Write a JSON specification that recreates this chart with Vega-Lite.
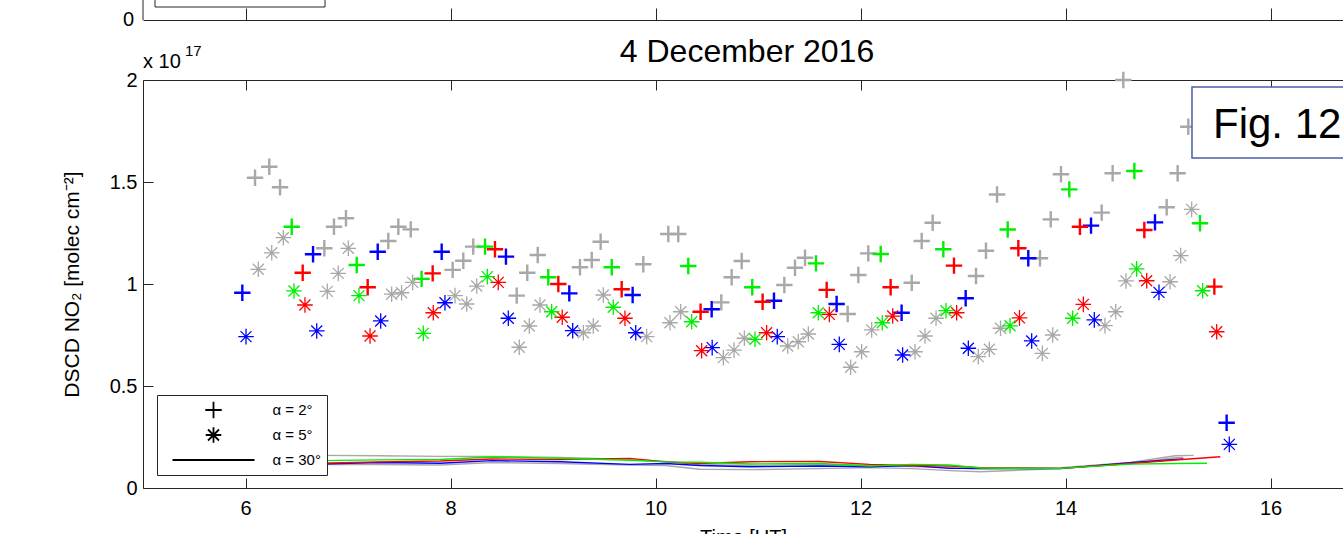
{
  "$schema": "https://vega.github.io/schema/vega-lite/v6.json",
  "width": 1200,
  "height": 408,
  "autosize": {"type": "none"},
  "padding": {"left": 143, "top": 80, "right": 0, "bottom": 46},
  "background": "white",
  "config": {
    "view": {"stroke": null},
    "font": "Liberation Sans",
    "axis": {"grid": false, "domainColor": "#262626", "tickColor": "#262626", "labelColor": "black", "titleColor": "black", "labelFont": "Liberation Sans", "titleFont": "Liberation Sans", "titleFontWeight": "normal", "labelFlush": false}
  },
  "title": {"text": "4 December 2016", "fontSize": 32, "fontWeight": "normal", "font": "Liberation Sans", "color": "black", "anchor": "middle", "frame": "group", "offset": 0, "dy": 71, "dx": 4},
  "datasets": {
    "pts": [
      {"t":6.093,"v":1.521,"s":"k","a":"α = 2°"},{"t":6.232,"v":1.575,"s":"k","a":"α = 2°"},{"t":6.337,"v":1.474,"s":"k","a":"α = 2°"},
      {"t":6.769,"v":1.175,"s":"k","a":"α = 2°"},{"t":6.863,"v":1.281,"s":"k","a":"α = 2°"},{"t":6.980,"v":1.322,"s":"k","a":"α = 2°"},
      {"t":7.393,"v":1.211,"s":"k","a":"α = 2°"},{"t":7.491,"v":1.281,"s":"k","a":"α = 2°"},{"t":7.612,"v":1.268,"s":"k","a":"α = 2°"},
      {"t":8.021,"v":1.069,"s":"k","a":"α = 2°"},{"t":8.125,"v":1.114,"s":"k","a":"α = 2°"},{"t":8.222,"v":1.183,"s":"k","a":"α = 2°"},
      {"t":8.646,"v":0.943,"s":"k","a":"α = 2°"},{"t":8.749,"v":1.055,"s":"k","a":"α = 2°"},{"t":8.851,"v":1.142,"s":"k","a":"α = 2°"},
      {"t":9.263,"v":1.082,"s":"k","a":"α = 2°"},{"t":9.378,"v":1.118,"s":"k","a":"α = 2°"},{"t":9.465,"v":1.207,"s":"k","a":"α = 2°"},
      {"t":9.881,"v":1.097,"s":"k","a":"α = 2°"},{"t":10.125,"v":1.245,"s":"k","a":"α = 2°"},{"t":10.222,"v":1.245,"s":"k","a":"α = 2°"},
      {"t":10.642,"v":0.910,"s":"k","a":"α = 2°"},{"t":10.743,"v":1.033,"s":"k","a":"α = 2°"},{"t":10.841,"v":1.113,"s":"k","a":"α = 2°"},
      {"t":11.257,"v":0.995,"s":"k","a":"α = 2°"},{"t":11.361,"v":1.080,"s":"k","a":"α = 2°"},{"t":11.459,"v":1.129,"s":"k","a":"α = 2°"},
      {"t":11.875,"v":0.853,"s":"k","a":"α = 2°"},{"t":11.979,"v":1.044,"s":"k","a":"α = 2°"},{"t":12.076,"v":1.150,"s":"k","a":"α = 2°"},
      {"t":12.500,"v":1.006,"s":"k","a":"α = 2°"},{"t":12.597,"v":1.211,"s":"k","a":"α = 2°"},{"t":12.704,"v":1.300,"s":"k","a":"α = 2°"},
      {"t":13.127,"v":1.039,"s":"k","a":"α = 2°"},{"t":13.224,"v":1.163,"s":"k","a":"α = 2°"},{"t":13.332,"v":1.439,"s":"k","a":"α = 2°"},
      {"t":13.751,"v":1.126,"s":"k","a":"α = 2°"},{"t":13.856,"v":1.317,"s":"k","a":"α = 2°"},{"t":13.956,"v":1.538,"s":"k","a":"α = 2°"},
      {"t":14.353,"v":1.350,"s":"k","a":"α = 2°"},{"t":14.460,"v":1.543,"s":"k","a":"α = 2°"},{"t":14.564,"v":2.0,"s":"k","a":"α = 2°"},
      {"t":14.987,"v":1.376,"s":"k","a":"α = 2°"},{"t":15.094,"v":1.543,"s":"k","a":"α = 2°"},{"t":15.198,"v":1.771,"s":"k","a":"α = 2°"},

      {"t":6.125,"v":1.072,"s":"k","a":"α = 5°"},{"t":6.256,"v":1.153,"s":"k","a":"α = 5°"},{"t":6.369,"v":1.227,"s":"k","a":"α = 5°"},
      {"t":6.798,"v":0.964,"s":"k","a":"α = 5°"},{"t":6.905,"v":1.052,"s":"k","a":"α = 5°"},{"t":7.003,"v":1.175,"s":"k","a":"α = 5°"},
      {"t":7.426,"v":0.950,"s":"k","a":"α = 5°"},{"t":7.523,"v":0.957,"s":"k","a":"α = 5°"},{"t":7.631,"v":1.008,"s":"k","a":"α = 5°"},
      {"t":8.044,"v":0.943,"s":"k","a":"α = 5°"},{"t":8.158,"v":0.902,"s":"k","a":"α = 5°"},{"t":8.256,"v":0.990,"s":"k","a":"α = 5°"},
      {"t":8.671,"v":0.690,"s":"k","a":"α = 5°"},{"t":8.769,"v":0.794,"s":"k","a":"α = 5°"},{"t":8.873,"v":0.897,"s":"k","a":"α = 5°"},
      {"t":9.296,"v":0.761,"s":"k","a":"α = 5°"},{"t":9.393,"v":0.794,"s":"k","a":"α = 5°"},{"t":9.491,"v":0.946,"s":"k","a":"α = 5°"},
      {"t":9.914,"v":0.742,"s":"k","a":"α = 5°"},{"t":10.141,"v":0.810,"s":"k","a":"α = 5°"},{"t":10.246,"v":0.864,"s":"k","a":"α = 5°"},
      {"t":10.662,"v":0.639,"s":"k","a":"α = 5°"},{"t":10.766,"v":0.676,"s":"k","a":"α = 5°"},{"t":10.867,"v":0.734,"s":"k","a":"α = 5°"},
      {"t":11.290,"v":0.696,"s":"k","a":"α = 5°"},{"t":11.393,"v":0.717,"s":"k","a":"α = 5°"},{"t":11.491,"v":0.755,"s":"k","a":"α = 5°"},
      {"t":11.904,"v":0.592,"s":"k","a":"α = 5°"},{"t":12.011,"v":0.668,"s":"k","a":"α = 5°"},{"t":12.109,"v":0.775,"s":"k","a":"α = 5°"},
      {"t":12.532,"v":0.668,"s":"k","a":"α = 5°"},{"t":12.629,"v":0.745,"s":"k","a":"α = 5°"},{"t":12.737,"v":0.832,"s":"k","a":"α = 5°"},
      {"t":13.149,"v":0.644,"s":"k","a":"α = 5°"},{"t":13.257,"v":0.680,"s":"k","a":"α = 5°"},{"t":13.366,"v":0.783,"s":"k","a":"α = 5°"},
      {"t":13.774,"v":0.660,"s":"k","a":"α = 5°"},{"t":13.875,"v":0.750,"s":"k","a":"α = 5°"},
      {"t":14.385,"v":0.796,"s":"k","a":"α = 5°"},{"t":14.490,"v":0.864,"s":"k","a":"α = 5°"},{"t":14.590,"v":1.015,"s":"k","a":"α = 5°"},
      {"t":15.020,"v":1.011,"s":"k","a":"α = 5°"},{"t":15.124,"v":1.139,"s":"k","a":"α = 5°"},{"t":15.231,"v":1.366,"s":"k","a":"α = 5°"},

      {"t":5.969,"v":0.957,"s":"b","a":"α = 2°"},{"t":6.659,"v":1.146,"s":"b","a":"α = 2°"},{"t":7.290,"v":1.158,"s":"b","a":"α = 2°"},
      {"t":7.914,"v":1.158,"s":"b","a":"α = 2°"},{"t":8.541,"v":1.134,"s":"b","a":"α = 2°"},{"t":9.159,"v":0.954,"s":"b","a":"α = 2°"},
      {"t":9.777,"v":0.946,"s":"b","a":"α = 2°"},{"t":10.548,"v":0.876,"s":"b","a":"α = 2°"},{"t":11.156,"v":0.918,"s":"b","a":"α = 2°"},
      {"t":11.767,"v":0.902,"s":"b","a":"α = 2°"},{"t":12.401,"v":0.859,"s":"b","a":"α = 2°"},{"t":13.026,"v":0.930,"s":"b","a":"α = 2°"},
      {"t":13.637,"v":1.126,"s":"b","a":"α = 2°"},{"t":14.249,"v":1.286,"s":"b","a":"α = 2°"},{"t":14.873,"v":1.302,"s":"b","a":"α = 2°"},
      {"t":15.572,"v":0.320,"s":"b","a":"α = 2°"},

      {"t":6.005,"v":0.742,"s":"b","a":"α = 5°"},{"t":6.695,"v":0.770,"s":"b","a":"α = 5°"},{"t":7.319,"v":0.819,"s":"b","a":"α = 5°"},
      {"t":7.946,"v":0.908,"s":"b","a":"α = 5°"},{"t":8.564,"v":0.832,"s":"b","a":"α = 5°"},{"t":9.192,"v":0.771,"s":"b","a":"α = 5°"},
      {"t":9.807,"v":0.761,"s":"b","a":"α = 5°"},{"t":10.553,"v":0.688,"s":"b","a":"α = 5°"},{"t":11.188,"v":0.742,"s":"b","a":"α = 5°"},
      {"t":11.793,"v":0.704,"s":"b","a":"α = 5°"},{"t":12.411,"v":0.652,"s":"b","a":"α = 5°"},{"t":13.052,"v":0.685,"s":"b","a":"α = 5°"},
      {"t":13.670,"v":0.721,"s":"b","a":"α = 5°"},{"t":14.281,"v":0.824,"s":"b","a":"α = 5°"},{"t":14.912,"v":0.959,"s":"b","a":"α = 5°"},
      {"t":15.598,"v":0.214,"s":"b","a":"α = 5°"},

      {"t":6.558,"v":1.055,"s":"r","a":"α = 2°"},{"t":7.192,"v":0.984,"s":"r","a":"α = 2°"},{"t":7.826,"v":1.052,"s":"r","a":"α = 2°"},
      {"t":8.434,"v":1.170,"s":"r","a":"α = 2°"},{"t":9.052,"v":1.000,"s":"r","a":"α = 2°"},{"t":9.670,"v":0.974,"s":"r","a":"α = 2°"},
      {"t":10.440,"v":0.864,"s":"r","a":"α = 2°"},{"t":11.045,"v":0.913,"s":"r","a":"α = 2°"},{"t":11.670,"v":0.971,"s":"r","a":"α = 2°"},
      {"t":12.294,"v":0.984,"s":"r","a":"α = 2°"},{"t":12.912,"v":1.090,"s":"r","a":"α = 2°"},{"t":13.540,"v":1.175,"s":"r","a":"α = 2°"},
      {"t":14.141,"v":1.281,"s":"r","a":"α = 2°"},{"t":14.769,"v":1.265,"s":"r","a":"α = 2°"},{"t":15.452,"v":0.987,"s":"r","a":"α = 2°"},

      {"t":6.580,"v":0.897,"s":"r","a":"α = 5°"},{"t":7.215,"v":0.745,"s":"r","a":"α = 5°"},{"t":7.832,"v":0.859,"s":"r","a":"α = 5°"},
      {"t":8.466,"v":1.008,"s":"r","a":"α = 5°"},{"t":9.090,"v":0.837,"s":"r","a":"α = 5°"},{"t":9.702,"v":0.832,"s":"r","a":"α = 5°"},
      {"t":10.450,"v":0.673,"s":"r","a":"α = 5°"},{"t":11.084,"v":0.761,"s":"r","a":"α = 5°"},{"t":11.696,"v":0.851,"s":"r","a":"α = 5°"},
      {"t":12.314,"v":0.843,"s":"r","a":"α = 5°"},{"t":12.938,"v":0.859,"s":"r","a":"α = 5°"},{"t":13.551,"v":0.834,"s":"r","a":"α = 5°"},
      {"t":14.174,"v":0.900,"s":"r","a":"α = 5°"},{"t":14.792,"v":1.016,"s":"r","a":"α = 5°"},{"t":15.475,"v":0.766,"s":"r","a":"α = 5°"},

      {"t":6.451,"v":1.281,"s":"g","a":"α = 2°"},{"t":7.085,"v":1.093,"s":"g","a":"α = 2°"},{"t":7.718,"v":1.025,"s":"g","a":"α = 2°"},
      {"t":8.337,"v":1.183,"s":"g","a":"α = 2°"},{"t":8.954,"v":1.033,"s":"g","a":"α = 2°"},{"t":9.573,"v":1.082,"s":"g","a":"α = 2°"},
      {"t":10.320,"v":1.088,"s":"g","a":"α = 2°"},{"t":10.944,"v":0.984,"s":"g","a":"α = 2°"},{"t":11.566,"v":1.101,"s":"g","a":"α = 2°"},
      {"t":12.197,"v":1.147,"s":"g","a":"α = 2°"},{"t":12.808,"v":1.170,"s":"g","a":"α = 2°"},{"t":13.436,"v":1.267,"s":"g","a":"α = 2°"},
      {"t":14.037,"v":1.464,"s":"g","a":"α = 2°"},{"t":14.672,"v":1.554,"s":"g","a":"α = 2°"},{"t":15.312,"v":1.298,"s":"g","a":"α = 2°"},

      {"t":6.473,"v":0.966,"s":"g","a":"α = 5°"},{"t":7.107,"v":0.943,"s":"g","a":"α = 5°"},{"t":7.735,"v":0.758,"s":"g","a":"α = 5°"},
      {"t":8.359,"v":1.036,"s":"g","a":"α = 5°"},{"t":8.987,"v":0.864,"s":"g","a":"α = 5°"},{"t":9.588,"v":0.886,"s":"g","a":"α = 5°"},
      {"t":10.353,"v":0.815,"s":"g","a":"α = 5°"},{"t":10.971,"v":0.729,"s":"g","a":"α = 5°"},{"t":11.588,"v":0.859,"s":"g","a":"α = 5°"},
      {"t":12.212,"v":0.810,"s":"g","a":"α = 5°"},{"t":12.834,"v":0.869,"s":"g","a":"α = 5°"},{"t":13.459,"v":0.795,"s":"g","a":"α = 5°"},
      {"t":14.070,"v":0.832,"s":"g","a":"α = 5°"},{"t":14.694,"v":1.074,"s":"g","a":"α = 5°"},{"t":15.338,"v":0.967,"s":"g","a":"α = 5°"}
    ],
    "lines": [
      {"t":6.0,"v":0.160,"s":"k","id":"k1"},{"t":6.73,"v":0.160,"s":"k","id":"k1"},{"t":7.3,"v":0.158,"s":"k","id":"k1"},{"t":7.9,"v":0.155,"s":"k","id":"k1"},{"t":8.4,"v":0.155,"s":"k","id":"k1"},{"t":9.07,"v":0.150,"s":"k","id":"k1"},{"t":9.75,"v":0.140,"s":"k","id":"k1"},{"t":10.1,"v":0.130,"s":"k","id":"k1"},{"t":10.43,"v":0.115,"s":"k","id":"k1"},{"t":10.92,"v":0.110,"s":"k","id":"k1"},{"t":11.6,"v":0.115,"s":"k","id":"k1"},{"t":12.09,"v":0.112,"s":"k","id":"k1"},{"t":12.5,"v":0.105,"s":"k","id":"k1"},{"t":12.87,"v":0.100,"s":"k","id":"k1"},{"t":13.17,"v":0.092,"s":"k","id":"k1"},{"t":13.95,"v":0.100,"s":"k","id":"k1"},{"t":14.63,"v":0.125,"s":"k","id":"k1"},{"t":15.07,"v":0.158,"s":"k","id":"k1"},{"t":15.25,"v":0.160,"s":"k","id":"k1"},
      {"t":6.0,"v":0.125,"s":"k","id":"k2"},{"t":6.73,"v":0.115,"s":"k","id":"k2"},{"t":7.3,"v":0.115,"s":"k","id":"k2"},{"t":7.9,"v":0.113,"s":"k","id":"k2"},{"t":8.4,"v":0.125,"s":"k","id":"k2"},{"t":9.07,"v":0.120,"s":"k","id":"k2"},{"t":9.75,"v":0.113,"s":"k","id":"k2"},{"t":10.1,"v":0.110,"s":"k","id":"k2"},{"t":10.43,"v":0.092,"s":"k","id":"k2"},{"t":10.92,"v":0.090,"s":"k","id":"k2"},{"t":11.6,"v":0.095,"s":"k","id":"k2"},{"t":12.09,"v":0.100,"s":"k","id":"k2"},{"t":12.5,"v":0.095,"s":"k","id":"k2"},{"t":12.87,"v":0.085,"s":"k","id":"k2"},{"t":13.17,"v":0.080,"s":"k","id":"k2"},{"t":13.95,"v":0.095,"s":"k","id":"k2"},{"t":14.63,"v":0.120,"s":"k","id":"k2"},{"t":15.07,"v":0.148,"s":"k","id":"k2"},{"t":15.15,"v":0.150,"s":"k","id":"k2"},
      {"t":6.0,"v":0.125,"s":"b","id":"b"},{"t":6.73,"v":0.118,"s":"b","id":"b"},{"t":7.3,"v":0.125,"s":"b","id":"b"},{"t":7.9,"v":0.121,"s":"b","id":"b"},{"t":8.4,"v":0.134,"s":"b","id":"b"},{"t":9.07,"v":0.129,"s":"b","id":"b"},{"t":9.75,"v":0.116,"s":"b","id":"b"},{"t":10.1,"v":0.120,"s":"b","id":"b"},{"t":10.43,"v":0.110,"s":"b","id":"b"},{"t":10.92,"v":0.104,"s":"b","id":"b"},{"t":11.6,"v":0.108,"s":"b","id":"b"},{"t":12.09,"v":0.104,"s":"b","id":"b"},{"t":12.5,"v":0.110,"s":"b","id":"b"},{"t":12.87,"v":0.096,"s":"b","id":"b"},{"t":13.17,"v":0.096,"s":"b","id":"b"},{"t":13.95,"v":0.095,"s":"b","id":"b"},{"t":14.63,"v":0.124,"s":"b","id":"b"},{"t":15.07,"v":0.140,"s":"b","id":"b"},{"t":15.15,"v":0.142,"s":"b","id":"b"},
      {"t":6.0,"v":0.118,"s":"r","id":"r"},{"t":6.73,"v":0.121,"s":"r","id":"r"},{"t":7.3,"v":0.128,"s":"r","id":"r"},{"t":7.9,"v":0.132,"s":"r","id":"r"},{"t":8.4,"v":0.142,"s":"r","id":"r"},{"t":9.07,"v":0.140,"s":"r","id":"r"},{"t":9.75,"v":0.145,"s":"r","id":"r"},{"t":10.1,"v":0.128,"s":"r","id":"r"},{"t":10.43,"v":0.120,"s":"r","id":"r"},{"t":10.92,"v":0.129,"s":"r","id":"r"},{"t":11.6,"v":0.130,"s":"r","id":"r"},{"t":12.09,"v":0.116,"s":"r","id":"r"},{"t":12.5,"v":0.110,"s":"r","id":"r"},{"t":12.87,"v":0.108,"s":"r","id":"r"},{"t":13.17,"v":0.100,"s":"r","id":"r"},{"t":13.95,"v":0.096,"s":"r","id":"r"},{"t":14.63,"v":0.120,"s":"r","id":"r"},{"t":15.07,"v":0.137,"s":"r","id":"r"},{"t":15.51,"v":0.153,"s":"r","id":"r"},
      {"t":6.0,"v":0.130,"s":"g","id":"g"},{"t":6.73,"v":0.134,"s":"g","id":"g"},{"t":7.3,"v":0.138,"s":"g","id":"g"},{"t":7.9,"v":0.140,"s":"g","id":"g"},{"t":8.4,"v":0.152,"s":"g","id":"g"},{"t":9.07,"v":0.146,"s":"g","id":"g"},{"t":9.75,"v":0.136,"s":"g","id":"g"},{"t":10.1,"v":0.128,"s":"g","id":"g"},{"t":10.43,"v":0.126,"s":"g","id":"g"},{"t":10.92,"v":0.118,"s":"g","id":"g"},{"t":11.6,"v":0.120,"s":"g","id":"g"},{"t":12.09,"v":0.108,"s":"g","id":"g"},{"t":12.5,"v":0.116,"s":"g","id":"g"},{"t":12.87,"v":0.113,"s":"g","id":"g"},{"t":13.17,"v":0.098,"s":"g","id":"g"},{"t":13.95,"v":0.096,"s":"g","id":"g"},{"t":14.63,"v":0.117,"s":"g","id":"g"},{"t":15.07,"v":0.120,"s":"g","id":"g"},{"t":15.38,"v":0.121,"s":"g","id":"g"}
    ]
  },
  "resolve": {"axis": {"x": "independent", "y": "independent"}},
  "layer": [
    {
      "data": {"name": "lines"},
      "mark": {"type": "line", "strokeWidth": 1.4},
      "encoding": {
        "x": {"field": "t", "type": "quantitative", "scale": {"domain": [5, 16.7073], "nice": false, "zero": false},
          "axis": {"orient": "bottom", "values": [6, 8, 10, 12, 14, 16], "tickSize": -10, "labelPadding": 20, "labelFontSize": 20, "title": "Time [UT]", "titleFontSize": 20, "titlePadding": 9}},
        "y": {"field": "v", "type": "quantitative", "scale": {"domain": [0, 2], "nice": false, "zero": false},
          "axis": {"orient": "left", "values": [0, 0.5, 1, 1.5, 2], "format": "~g", "tickSize": -10, "labelPadding": 16, "labelFontSize": 20, "title": "DSCD NO₂ [molec cm⁻²]", "titleFontSize": 21, "titlePadding": 27}},
        "color": {"field": "s", "type": "nominal", "scale": {"domain": ["b", "r", "g", "k"], "range": ["#0000ff", "#ff0000", "#00ee00", "#a8a8a8"]}, "legend": null},
        "detail": {"field": "id", "type": "nominal"}
      }
    },
    {
      "data": {"name": "pts"},
      "transform": [{"filter": "datum.a === 'α = 2°'"}],
      "mark": {"type": "point", "filled": false, "size": 6724, "strokeWidth": 2.4, "opacity": 1},
      "encoding": {
        "x": {"field": "t", "type": "quantitative",
          "axis": {"orient": "top", "values": [6, 8, 10, 12, 14, 16], "tickSize": -10, "labels": false, "title": null}},
        "y": {"field": "v", "type": "quantitative", "axis": null},
        "color": {"field": "s", "type": "nominal", "legend": null},
        "shape": {"field": "a", "type": "nominal",
          "scale": {"domain": ["α = 2°", "α = 5°", "α = 30°"], "range": ["M-0.2,0L0.2,0M0,-0.2L0,0.2", "M-0.19,0L0.19,0M0,-0.19L0,0.19M-0.134,-0.134L0.134,0.134M-0.134,0.134L0.134,-0.134", "M-1,0L1,0"]},
          "legend": {"title": null, "orient": "none", "legendX": 14, "legendY": 315, "padding": 6, "symbolOffset": 8.5, "labelOffset": 17, "clipHeight": 18, "rowPadding": 7, "strokeColor": "#262626", "fillColor": "white", "labelFont": "Liberation Sans", "labelFontSize": 15, "labelColor": "black", "symbolStrokeColor": "black", "symbolFillColor": "transparent", "symbolSize": 6724, "symbolStrokeWidth": 1.8, "cornerRadius": 0}}
      }
    },
    {
      "data": {"name": "pts"},
      "transform": [{"filter": "datum.a === 'α = 5°'"}],
      "mark": {"type": "point", "filled": false, "size": 6724, "strokeWidth": 1.3, "opacity": 1},
      "encoding": {
        "x": {"field": "t", "type": "quantitative", "axis": null},
        "y": {"field": "v", "type": "quantitative", "axis": null},
        "color": {"field": "s", "type": "nominal", "legend": null},
        "shape": {"field": "a", "type": "nominal"}
      }
    },
    {
      "data": {"values": [{}]},
      "mark": {"type": "rect", "fill": "white", "stroke": "#4a5fa8", "strokeWidth": 1.5},
      "encoding": {
        "x": {"datum": 15.234, "type": "quantitative", "axis": null},
        "x2": {"datum": 16.85},
        "y": {"datum": 1.966, "type": "quantitative", "axis": null},
        "y2": {"datum": 1.618}
      }
    },
    {
      "data": {"values": [{}]},
      "mark": {"type": "text", "text": "Fig. 12", "fontSize": 42, "align": "left", "baseline": "alphabetic", "font": "Liberation Sans", "color": "black"},
      "encoding": {
        "x": {"datum": 15.439, "type": "quantitative", "axis": null},
        "y": {"datum": 1.716, "type": "quantitative", "axis": null}
      }
    },
    {
      "data": {"values": [{}]},
      "mark": {"type": "text", "text": "x 10", "fontSize": 20, "align": "left", "baseline": "alphabetic", "dy": -12, "font": "Liberation Sans", "color": "black"},
      "encoding": {
        "x": {"datum": 5, "type": "quantitative", "axis": null},
        "y": {"datum": 2, "type": "quantitative", "axis": null}
      }
    },
    {
      "data": {"values": [{}]},
      "mark": {"type": "text", "text": "17", "fontSize": 15, "align": "left", "baseline": "alphabetic", "dx": 42, "dy": -24, "font": "Liberation Sans", "color": "black"},
      "encoding": {
        "x": {"datum": 5, "type": "quantitative", "axis": null},
        "y": {"datum": 2, "type": "quantitative", "axis": null}
      }
    },
    {
      "data": {"values": [{}]},
      "mark": {"type": "text", "text": "0", "fontSize": 20, "align": "right", "baseline": "middle", "dx": -9, "dy": -60, "font": "Liberation Sans", "color": "black"},
      "encoding": {
        "x": {"datum": 5, "type": "quantitative",
          "axis": {"orient": "top", "offset": 60, "values": [6, 8, 10, 12, 14, 16], "tickSize": 12, "labels": false, "title": null}},
        "y": {"datum": 2, "type": "quantitative", "axis": null}
      }
    },
    {
      "data": {"values": [{}]},
      "mark": {"type": "rule", "color": "#262626", "strokeWidth": 1, "yOffset": -82, "y2Offset": -60},
      "encoding": {
        "x": {"datum": 5, "type": "quantitative", "axis": null},
        "y": {"datum": 2, "type": "quantitative", "axis": null},
        "y2": {"datum": 2}
      }
    },
    {
      "data": {"values": [{}]},
      "mark": {"type": "rect", "fill": "transparent", "stroke": "#262626", "strokeWidth": 1, "yOffset": -82, "y2Offset": -73},
      "encoding": {
        "x": {"datum": 5.117, "type": "quantitative", "axis": null},
        "x2": {"datum": 6.776},
        "y": {"datum": 2, "type": "quantitative", "axis": null},
        "y2": {"datum": 2}
      }
    }
  ]
}
